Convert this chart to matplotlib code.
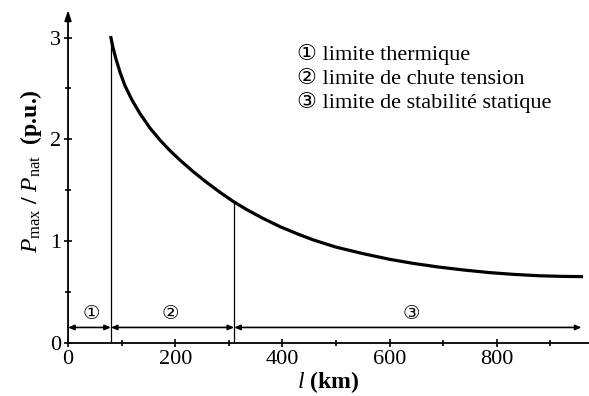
import matplotlib
matplotlib.use("Agg")
import matplotlib.pyplot as plt

plt.rcParams["font.family"] = ["Liberation Serif", "DejaVu Serif"]
plt.rcParams["mathtext.fontset"] = "custom"
plt.rcParams["mathtext.rm"] = "Liberation Serif"
plt.rcParams["mathtext.it"] = "Liberation Serif:italic"

# curve
length_km = [80, 84, 90, 97, 106, 119, 134, 153, 172, 190, 209, 234, 259, 284,
             308, 333, 364, 396, 430, 458, 500, 551, 600, 644, 690, 738, 785, 831,
             880, 924, 958]
p_ratio = [3.0, 2.90, 2.78, 2.66, 2.53, 2.39, 2.255, 2.11, 1.99, 1.89, 1.795, 1.68,
           1.575, 1.477, 1.39, 1.31, 1.222, 1.14, 1.066, 1.01, 0.94, 0.875, 0.82,
           0.78, 0.745, 0.715, 0.69, 0.672, 0.658, 0.652, 0.65]

# region boundaries (km) and labels
bounds_km = [0, 80, 310, 958]
region_labels = ["\u2460", "\u2461", "\u2462"]
region_label_x = [44, 190, 641]
boundary_heights = [3.0, 1.385]

legend_lines = [
    "\u2460 limite thermique",
    "\u2461 limite de chute tension",
    "\u2462 limite de stabilit\u00e9 statique",
]
legend_y = [2.83, 2.59, 2.36]

fig = plt.figure(figsize=(5.89, 3.96), dpi=100)
ax = fig.add_axes([0.1155, 0.1346, 0.8845, 0.8654])
ax.set_xlim(0, 972)
ax.set_ylim(0, 3.37)

ax.plot(length_km, p_ratio, color="black", lw=2.3, solid_joinstyle="round")
for xb, hb in zip(bounds_km[1:3], boundary_heights):
    ax.plot([xb, xb], [0, hb], color="black", lw=0.9)

# double arrows for regions
arrow_y = 0.15
for i in range(3):
    ax.annotate("", xy=(bounds_km[i], arrow_y), xytext=(bounds_km[i + 1], arrow_y),
                arrowprops=dict(arrowstyle="<|-|>,head_length=0.35,head_width=0.15",
                                color="black", lw=1.2, shrinkA=0, shrinkB=0))
    ax.text(region_label_x[i], 0.29, region_labels[i], ha="center", va="center",
            fontsize=14, family=["DejaVu Sans"])

for txt, yy in zip(legend_lines, legend_y):
    ax.text(428, yy, txt, ha="left", va="center", fontsize=16,
            family=["Liberation Serif", "DejaVu Sans"])

# axes styling
for side in ["top", "right", "left"]:
    ax.spines[side].set_visible(False)
ax.spines["bottom"].set_linewidth(1.3)
ax.annotate("", xy=(0, 3.27), xytext=(0, 0),
            arrowprops=dict(arrowstyle="-|>,head_length=0.6,head_width=0.2",
                            color="black", lw=1.3, shrinkA=0, shrinkB=0),
            annotation_clip=False)

ax.set_xticks([0, 200, 400, 600, 800])
ax.set_xticks(range(100, 1000, 200), minor=True)
ax.set_yticks([0, 1, 2, 3])
ax.set_yticks([0.5, 1.5, 2.5], minor=True)
ax.tick_params(axis="both", which="major", direction="inout", length=6, width=1.2,
               labelsize=16, pad=2)
ax.tick_params(axis="both", which="minor", direction="inout", length=5, width=1.2)

ax.set_xlabel(r"$l$ (km)", fontsize=17, fontweight="bold", labelpad=0)
ax.set_ylabel(r"$P_{\mathrm{max}}$ / $P_{\mathrm{nat}}$  (p.u.)", fontsize=17,
              fontweight="bold", labelpad=4)

fig.savefig("out.png", dpi=100)
